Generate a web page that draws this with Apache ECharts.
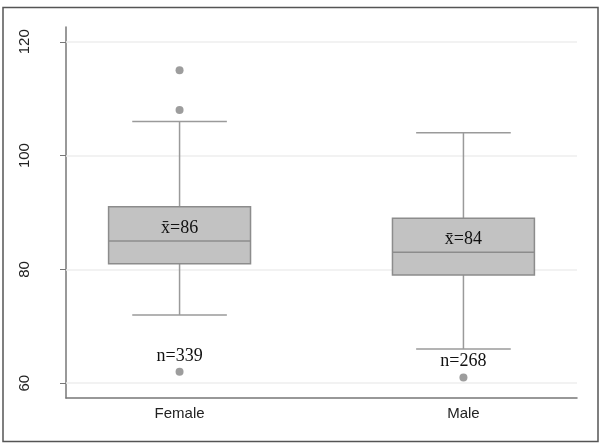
<!DOCTYPE html>
<html>
<head>
<meta charset="utf-8">
<script src="https://cdn.jsdelivr.net/npm/echarts@6/dist/echarts.min.js"></script>
<style>
  html, body { margin: 0; padding: 0; background: #fff; }
  #chart { width: 600px; height: 444px; }
</style>
</head>
<body>
<div id="chart"></div>
<script>
(function(){

var categories = ['Female', 'Male'];
var lowerWhisker = [72, 66];
var q1 = [81, 79];
var median = [85, 83];
var q3 = [91, 89];
var upperWhisker = [106, 104];
var means = [86, 84];
var counts = [339, 268];
var outliers = [[115, 108, 62], [61]];
var yTicks = [60, 80, 100, 120];

var chart = echarts.init(document.getElementById('chart'));

// one row per group: x index, whiskers, quartiles, median, mean, n, lowest point
var boxData = categories.map(function (c, i) {
    var lowest = Math.min.apply(null, [lowerWhisker[i]].concat(outliers[i]));
    return [i, lowerWhisker[i], q1[i], median[i], q3[i], upperWhisker[i], means[i], counts[i], lowest];
});

var outlierData = [];
outliers.forEach(function (list, i) {
    list.forEach(function (v) { outlierData.push([i, v]); });
});

function renderBox(params, api) {
    var x = api.value(0);
    var lo = api.coord([x, api.value(1)]);
    var b1 = api.coord([x, api.value(2)]);
    var md = api.coord([x, api.value(3)]);
    var b3 = api.coord([x, api.value(4)]);
    var hi = api.coord([x, api.value(5)]);
    var mean = api.coord([x, api.value(6)]);
    var low = api.coord([x, api.value(8)]);
    var bw = api.size([0.5, 0])[0];
    var cw = api.size([1 / 3, 0])[0];
    var cx = lo[0];
    var whisker = { stroke: '#9a9a9a', lineWidth: 1.5 };
    return {
        type: 'group',
        children: [
            { type: 'line', shape: { x1: cx, y1: b3[1], x2: cx, y2: hi[1] }, style: whisker },
            { type: 'line', shape: { x1: cx, y1: b1[1], x2: cx, y2: lo[1] }, style: whisker },
            { type: 'line', shape: { x1: cx - cw / 2, y1: hi[1], x2: cx + cw / 2, y2: hi[1] }, style: whisker },
            { type: 'line', shape: { x1: cx - cw / 2, y1: lo[1], x2: cx + cw / 2, y2: lo[1] }, style: whisker },
            { type: 'rect', shape: { x: cx - bw / 2, y: b3[1], width: bw, height: b1[1] - b3[1] },
              style: { fill: '#c2c2c2', stroke: '#8c8c8c', lineWidth: 1.5 } },
            { type: 'line', shape: { x1: cx - bw / 2, y1: md[1], x2: cx + bw / 2, y2: md[1] },
              style: { stroke: '#8c8c8c', lineWidth: 1.5 } },
            { type: 'text', x: cx, y: mean[1] - 7,
              style: { text: 'x\u0304=' + api.value(6), fill: '#111', font: '18px "Liberation Serif"',
                       align: 'center', verticalAlign: 'middle' } },
            { type: 'text', x: cx, y: low[1] - 16,
              style: { text: 'n=' + api.value(7), fill: '#111', font: '18px "Liberation Serif"',
                       align: 'center', verticalAlign: 'middle' } }
        ]
    };
}

var option = {
    animation: false,
    backgroundColor: '#fff',
    graphic: [{
        type: 'rect',
        shape: { x: 3, y: 7.5, width: 595, height: 434 },
        style: { fill: 'none', stroke: '#555', lineWidth: 1.5 },
        z: 100
    }],
    grid: { left: 66, right: 23, top: 27, bottom: 46 },
    xAxis: {
        type: 'value',
        min: -0.4,
        max: 1.4,
        axisLine: { onZero: false, lineStyle: { color: '#777', width: 1.5 } },
        axisTick: { show: false },
        splitLine: { show: false },
        axisLabel: {
            customValues: [0, 1],
            formatter: function (v) { return categories[Math.round(v)]; },
            color: '#222',
            fontFamily: 'Liberation Sans',
            fontSize: 15,
            margin: 8
        }
    },
    yAxis: {
        type: 'value',
        min: 57.4,
        max: 122.6,
        axisLine: { show: true, onZero: false, lineStyle: { color: '#777', width: 1.5 } },
        axisTick: { show: true, customValues: yTicks, length: 6, lineStyle: { color: '#777', width: 1 } },
        splitLine: { show: false },
        axisLabel: {
            customValues: yTicks,
            rotate: 90,
            color: '#222',
            fontFamily: 'Liberation Sans',
            fontSize: 15,
            margin: 34
        }
    },
    series: [
        {
            type: 'custom',
            renderItem: renderBox,
            data: boxData,
            encode: { x: 0, y: [1, 2, 3, 4, 5] },
            silent: true,
            z: 3,
            markLine: {
                silent: true,
                symbol: 'none',
                label: { show: false },
                lineStyle: { color: '#eeeeee', type: 'solid', width: 1.5 },
                data: yTicks.map(function (v) { return { yAxis: v }; }),
                z: 1
            }
        },
        {
            type: 'scatter',
            data: outlierData,
            symbol: 'circle',
            symbolSize: 8,
            itemStyle: { color: '#858585' },
            silent: true,
            z: 4
        }
    ]
};

chart.setOption(option);
})();
</script>
</body>
</html>
